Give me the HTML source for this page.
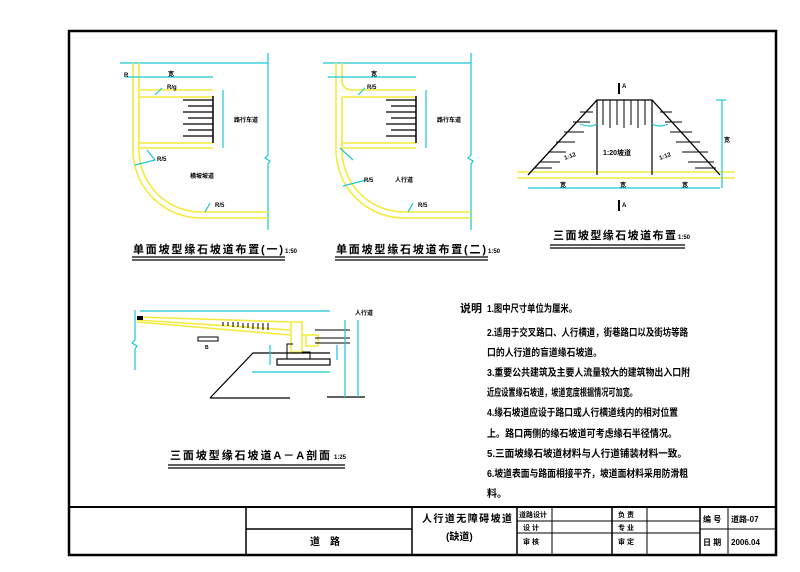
<!DOCTYPE html>
<html><head><meta charset="utf-8"><style>
html,body{margin:0;padding:0;background:#fff;width:800px;height:572px;overflow:hidden}
svg{display:block}
text{font-family:"Liberation Sans","Noto Sans CJK SC",sans-serif;font-weight:bold;fill:#000}
.y{stroke:#f5ea3c;stroke-width:1.6;fill:none}
.c{stroke:#19c6d8;stroke-width:1.2;fill:none}
.k{stroke:#000;fill:none}
</style></head><body>
<svg width="800" height="572" viewBox="0 0 800 572" xmlns="http://www.w3.org/2000/svg">
<rect x="0" y="0" width="800" height="572" fill="#fff"/>
<!-- frame -->
<rect x="69" y="31" width="707" height="524" class="k" stroke-width="2.5"/>
<line x1="69" y1="507" x2="776" y2="507" class="k" stroke-width="2"/>
<line x1="246" y1="507" x2="246" y2="555" class="k" stroke-width="1.5"/>
<line x1="412" y1="507" x2="412" y2="555" class="k" stroke-width="1.5"/>
<line x1="246" y1="529" x2="412" y2="529" class="k" stroke-width="1.5"/>
<line x1="517" y1="507" x2="517" y2="555" class="k" stroke-width="1.5"/>
<line x1="552" y1="507" x2="552" y2="555" class="k"/>
<line x1="612" y1="507" x2="612" y2="555" class="k" stroke-width="1.5"/>
<line x1="647" y1="507" x2="647" y2="555" class="k"/>
<line x1="700" y1="507" x2="700" y2="555" class="k" stroke-width="1.5"/>
<line x1="728" y1="507" x2="728" y2="555" class="k"/>
<line x1="517" y1="521" x2="700" y2="521" class="k"/>
<line x1="517" y1="533" x2="700" y2="533" class="k"/>
<line x1="700" y1="529" x2="776" y2="529" class="k"/>
<text x="310" y="545" font-size="10">道　路</text>
<text x="422" y="522" font-size="10" textLength="90">人行道无障碍坡道</text>
<text x="446" y="540" font-size="10">(缺道)</text>
<text x="519" y="517" font-size="7">道路设计</text>
<text x="523" y="530" font-size="7">设 计</text>
<text x="523" y="544" font-size="7">审 核</text>
<text x="618" y="517" font-size="7">负 责</text>
<text x="618" y="530" font-size="7">专 业</text>
<text x="618" y="544" font-size="7">审 定</text>
<text x="703" y="522" font-size="8">编 号</text>
<text x="731" y="522" font-size="8">道路-07</text>
<text x="703" y="545" font-size="8">日 期</text>
<text x="731" y="545" font-size="8">2006.04</text>

<!-- Figure 1 -->
<g>
<line x1="120" y1="63" x2="268" y2="63" class="c"/>
<polyline points="268,53 268,155 265,158 270,161 268,164 268,230" class="c"/>
<path d="M133,63 V150 A68,68 0 0 0 201,218 H268" class="y"/>
<path d="M139,63 V150 A62,62 0 0 0 201,212 H268" class="y"/>
<path d="M139,90 H213 M139,97 H213 M139,143 H213 M139,148 H213" class="y"/>
<line x1="213" y1="96" x2="213" y2="143" class="k" stroke-width="1.5"/>
<path d="M183,100 H213 M188,106 H213 M183,112 H213 M188,118 H213 M183,124 H213 M188,130 H213 M183,136 H213" class="k" stroke-width="1.3"/>
<line x1="125" y1="77" x2="213" y2="77" class="c"/>
<line x1="223" y1="90" x2="223" y2="148" class="c"/>
<path d="M162,88 L155,95 M147,150 L155,160 L135,165 M210,203 L205,212" class="c"/>
<text x="124" y="77" font-size="6">R</text>
<text x="168" y="76" font-size="6">宽</text>
<text x="167" y="89" font-size="6">R/g</text>
<text x="234" y="122" font-size="6">路行车道</text>
<text x="157" y="161" font-size="6">R/5</text>
<text x="190" y="178" font-size="6">横坡坡道</text>
<text x="215" y="207" font-size="6">R/5</text>
<text x="133" y="253" font-size="11" textLength="150">单面坡型缘石坡道布置(一)</text>
<text x="285" y="253" font-size="6">1:50</text>
<path d="M132,257 H285 M132,260 H285" class="k" stroke-width="1.3"/>
</g>

<!-- Figure 2 -->
<g transform="translate(203,0)">
<line x1="120" y1="63" x2="268" y2="63" class="c"/>
<polyline points="268,53 268,155 265,158 270,161 268,164 268,230" class="c"/>
<path d="M133,63 V150 A68,68 0 0 0 201,218 H268" class="y"/>
<path d="M139,63 V80 Q139,90 150,90 H213 M139,97 Q139,97 150,97 H213 M139,97 V150 A62,62 0 0 0 201,212 H268" class="y"/>
<path d="M139,143 H213 M139,148 H213" class="y"/>
<line x1="213" y1="96" x2="213" y2="143" class="k" stroke-width="1.5"/>
<path d="M183,100 H213 M188,106 H213 M183,112 H213 M188,118 H213 M183,124 H213 M188,130 H213 M183,136 H213" class="k" stroke-width="1.3"/>
<line x1="125" y1="77" x2="213" y2="77" class="c"/>
<line x1="223" y1="90" x2="223" y2="148" class="c"/>
<path d="M162,88 L155,95 M137,148 L150,160 M163,180 L140,186 M210,203 L205,212" class="c"/>
<text x="168" y="76" font-size="6">宽</text>
<text x="164" y="89" font-size="6">R/5</text>
<text x="234" y="122" font-size="6">路行车道</text>
<text x="161" y="182" font-size="6">R/5</text>
<text x="192" y="182" font-size="6">人行道</text>
<text x="215" y="207" font-size="6">R/5</text>
<text x="133" y="253" font-size="11" textLength="150">单面坡型缘石坡道布置(二)</text>
<text x="285" y="253" font-size="6">1:50</text>
<path d="M132,257 H285 M132,260 H285" class="k" stroke-width="1.3"/>
</g>

<!-- Figure 3 -->
<g>
<path d="M517,172 H735 M517,178 H735" class="y"/>
<path d="M528,175 L597,100 H652 L720,175" class="k" stroke-width="1.3"/>
<path d="M597,100 V175 M652,100 V175" class="k" stroke-width="1.2"/>
<path d="M603,100 V125 M610,100 V128 M617,100 V125 M624,100 V128 M631,100 V125 M638,100 V128 M645,100 V125" class="k"/>
<path d="M540,162 H560 M548,152 H566 M556,142 H575 M564,132 H584 M573,122 H590 M580,112 H593 M535,168 H552" class="k"/>
<path d="M660,112 H672 M665,122 H682 M670,132 H692 M676,142 H700 M682,152 H708 M688,162 H714 M695,168 H716" class="k"/>
<line x1="528" y1="188" x2="720" y2="188" class="c"/>
<line x1="722" y1="100" x2="722" y2="188" class="c"/>
<line x1="716" y1="100" x2="726" y2="100" class="c"/>
<path d="M580,124 Q590,128 597,124 M652,124 Q660,128 668,124" class="c"/>
<line x1="619" y1="83" x2="619" y2="94" class="k" stroke-width="2"/>
<line x1="619" y1="200" x2="619" y2="211" class="k" stroke-width="2"/>
<text x="622" y="88" font-size="6">A</text>
<text x="622" y="207" font-size="6">A</text>
<text x="603" y="155" font-size="7">1:20坡道</text>
<text x="565" y="160" font-size="6" transform="rotate(-20 565 160)">1:12</text>
<text x="660" y="160" font-size="6" transform="rotate(-20 660 160)">1:12</text>
<text x="560" y="187" font-size="6">宽</text>
<text x="620" y="187" font-size="6">宽</text>
<text x="682" y="187" font-size="6">宽</text>
<text x="724" y="142" font-size="6">宽</text>
<text x="553" y="239" font-size="11" textLength="123">三面坡型缘石坡道布置</text>
<text x="678" y="239" font-size="6">1:50</text>
<path d="M550,245 H685 M550,248 H685" class="k" stroke-width="1.3"/>
</g>

<!-- Figure 4 -->
<g>
<line x1="140" y1="311" x2="330" y2="311" class="c"/>
<polyline points="135,310 135,340 132,343 137,346 135,349 135,370" class="c"/>
<path d="M137,317 L290,322 M137,320 L290,330 M137,322 L290,335" class="y"/>
<path d="M223,322 V326 M228,322 V326 M233,322 V327 M238,322 V327 M243,323 V328 M248,323 V328 M253,323 V329 M258,323 V329 M263,323 V330 M268,323 V330" class="k"/>
<rect x="137" y="316" width="6" height="4" fill="#000"/>
<path d="M291,322 V352 H302 V322 Z" class="y"/>
<path d="M302,335 H318 V346 M306,335 V346 H318" class="y"/>
<path d="M315,330 H350 M315,338 H350 M315,343 H350" class="k"/>
<rect x="277" y="359" width="53" height="6" class="k" stroke-width="1.2"/>
<path d="M287,359 V344 H293 M302,352 H310 V359" class="k"/>
<path d="M210,398 L253,353 H330" class="k" stroke-width="1.2"/>
<path d="M210,398 H290 M327,397 H365" class="k" stroke-width="1.2"/>
<line x1="252" y1="372" x2="330" y2="372" class="c"/>
<path d="M345,320 V397 M358,320 V397 M270,345 V365 M337,345 V360" class="c"/>
<rect x="198" y="337" width="20" height="4" class="k"/>
<text x="205" y="349" font-size="5">B</text>
<text x="355" y="315" font-size="6">人行道</text>
<text x="170" y="459" font-size="11" textLength="160">三面坡型缘石坡道A－A剖面</text>
<text x="334" y="459" font-size="6">1:25</text>
<path d="M168,465 H345 M168,468 H345" class="k" stroke-width="1.3"/>
</g>

<!-- Notes -->
<g font-size="10">
<text x="460" y="312" font-size="11">说明</text>
<text x="487" y="312" textLength="90" lengthAdjust="spacingAndGlyphs">1.图中尺寸单位为厘米。</text>
<text x="487" y="336" textLength="201" lengthAdjust="spacingAndGlyphs">2.适用于交叉路口、人行横道，街巷路口以及街坊等路</text>
<text x="487" y="356" textLength="115" lengthAdjust="spacingAndGlyphs">口的人行道的盲道缘石坡道。</text>
<text x="487" y="376" textLength="203" lengthAdjust="spacingAndGlyphs">3.重要公共建筑及主要人流量较大的建筑物出入口附</text>
<text x="487" y="396" textLength="150" lengthAdjust="spacingAndGlyphs">近应设置缘石坡道，坡道宽度根据情况可加宽。</text>
<text x="487" y="416" textLength="191" lengthAdjust="spacingAndGlyphs">4.缘石坡道应设于路口或人行横道线内的相对位置</text>
<text x="487" y="437" textLength="190" lengthAdjust="spacingAndGlyphs">上。路口两侧的缘石坡道可考虑缘石半径情况。</text>
<text x="487" y="457" textLength="200" lengthAdjust="spacingAndGlyphs">5.三面坡缘石坡道材料与人行道铺装材料一致。</text>
<text x="487" y="477" textLength="201" lengthAdjust="spacingAndGlyphs">6.坡道表面与路面相接平齐，坡道面材料采用防滑粗</text>
<text x="487" y="497">料。</text>
</g>
</svg>
</body></html>
